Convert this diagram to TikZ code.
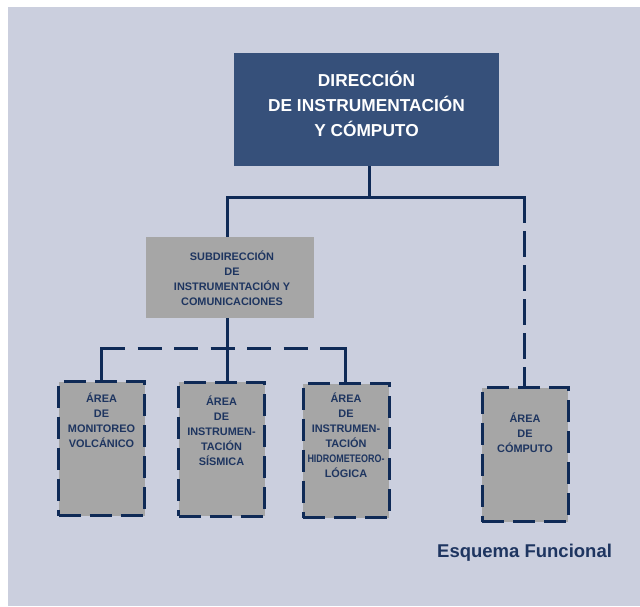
\documentclass[tikz,border=0pt]{standalone}
\usepackage{graphicx}
\usepackage{fontspec}
\setmainfont{Liberation Sans}
\definecolor{bgcol}{HTML}{CBCFDE}
\definecolor{dirblue}{HTML}{36507A}
\definecolor{boxgray}{HTML}{A6A6A6}
\definecolor{navy}{HTML}{0F2A56}
\definecolor{txtnavy}{HTML}{1E3560}
\begin{document}
\begin{tikzpicture}[x=1pt,y=-1pt,
  topbox/.style={rectangle, fill=dirblue, minimum width=265pt, minimum height=113pt, inner sep=0pt},
  subbox/.style={rectangle, fill=boxgray, minimum width=168pt, minimum height=81pt, inner sep=0pt},
  areabox/.style={rectangle, fill=boxgray, draw=navy, line width=3pt, dash pattern=on 22pt off 9pt, minimum width=86pt, minimum height=134pt, inner sep=0pt},
  conn/.style={draw=navy, line width=3pt},
  vdash/.style={conn, dash pattern=on 26pt off 8pt},
  hdash/.style={conn, dash pattern=on 24pt off 12.5pt},
  toptxt/.style={text=white, font=\bfseries\fontsize{17.3}{25}\selectfont, align=center, inner sep=0pt},
  smtxt/.style={text=txtnavy, font=\bfseries\fontsize{10.9}{15}\selectfont, align=center, inner sep=0pt},
  captxt/.style={text=txtnavy, font=\bfseries\fontsize{18.5}{20}\selectfont, inner sep=0pt}
]
\useasboundingbox (0,0) rectangle (640,606);
\fill[bgcol] (8,7) rectangle (640,606);

% boxes
\node[topbox] (dir) at (366.5,109.5) {};
\node[toptxt] (dirt) at (366.5,104) {DIRECCIÓN\\DE INSTRUMENTACIÓN\\Y CÓMPUTO};

\node[subbox] (sub) at (230,277.5) {};
\node[smtxt] (subt) at (232,278) {SUBDIRECCIÓN\\DE\\INSTRUMENTACIÓN Y\\COMUNICACIONES};

\node[areabox] (a1) at (101.5,448.5) {};
\node[smtxt] (a1t) at (101.5,420.5) {ÁREA\\DE\\MONITOREO\\VOLCÁNICO};

\node[areabox] (a2) at (221.5,449) {};
\node[smtxt] (a2t) at (221.5,430.5) {ÁREA\\DE\\INSTRUMEN-\\TACIÓN\\SÍSMICA};

\node[areabox] (a3) at (346,450.5) {};
\node[smtxt] (a3t) at (346,435) {ÁREA\\DE\\INSTRUMEN-\\TACIÓN\\\scalebox{0.82}[1]{HIDROMETEORO-}\\LÓGICA};

\node[areabox] (a4) at (525,454.5) {};
\node[smtxt] (a4t) at (525,433) {ÁREA\\DE\\CÓMPUTO};

\node[captxt, anchor=base west] (cap) at (437,557) {Esquema Funcional};

% junctions
\coordinate (jtop) at (369,197);
\coordinate (jl) at (227,197);
\coordinate (jr) at (524,197);
\coordinate (hl) at (101,348);
\coordinate (hr) at (345,348);
\coordinate (hm) at (227,348);

% connectors
\draw[conn] (dir.south -| jtop) -- (jtop);
\draw[conn, line cap=rect] (jl) -- (jr);
\draw[conn] (jl) -- (jl |- sub.north);
\draw[vdash] (jr) -- (jr |- a4.north);
\draw[conn] (sub.south -| hm) -- (hm |- a2.north);
\draw[hdash] (hl) -- (hr);
\draw[conn, line cap=rect] (hl) -- (hl |- a1.north);
\draw[conn, line cap=rect] (hr) -- (hr |- a3.north);
\end{tikzpicture}
\end{document}
